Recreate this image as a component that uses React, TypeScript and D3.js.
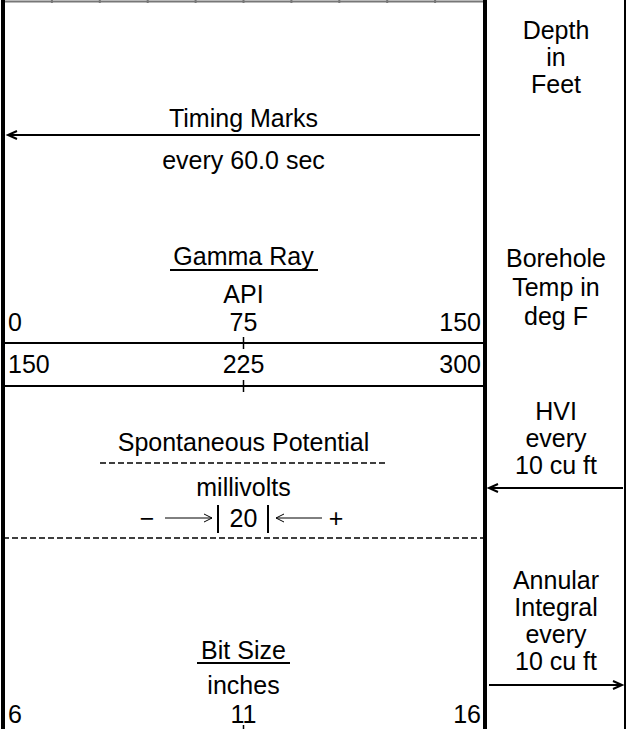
import * as d3 from "d3";

// log header: track scales and labels
const gridDivisions = 10;
const gammaScale = [0, 75, 150];
const gammaBackup = [150, 225, 300];
const bitSizeScale = [6, 11, 16];
const depthLabel = ["Depth", "in", "Feet"];
const tempLabel = ["Borehole", "Temp in", "deg F"];
const hviLabel = ["HVI", "every", "10 cu ft"];
const annularLabel = ["Annular", "Integral", "every", "10 cu ft"];

const W = 629;
const H = 729;
const FONT = "'Liberation Sans', Arial, sans-serif";
const FS = 25;

const trackL = 3;
const trackR = 485;
const colR = 625;
const colMid = (trackR + colR) / 2 + 1;

const x = d3.scaleLinear().domain([0, 150]).range([trackL + 1, trackR - 2]);
const xMid = x(75);

function Txt({ x: tx, y, children, anchor = "middle" }: any) {
  return (
    <text x={tx} y={y} textAnchor={anchor} fontFamily={FONT} fontSize={FS} fill="#000">
      {children}
    </text>
  );
}

function Arrow({ x1, x2, y, head }: { x1: number; x2: number; y: number; head: "left" | "right" }) {
  const hx = head === "left" ? x1 : x2;
  const d = head === "left" ? 9 : -9;
  return (
    <g stroke="#000" strokeWidth={2} fill="none">
      <line x1={x1} x2={x2} y1={y} y2={y} />
      <path d={`M${hx + d},${y - 4} L${hx},${y} L${hx + d},${y + 4}`} />
    </g>
  );
}

export default function App() {
  const gridTicks = d3.range(1, gridDivisions).map((i) => x(i * 15));
  const lines = (arr: string[], y0: number, step: number) =>
    arr.map((s, i) => (
      <Txt key={s + i} x={colMid} y={y0 + i * step}>
        {s}
      </Txt>
    ));
  const scaleRow = (vals: number[], y: number) =>
    vals.map((v, i) => (
      <Txt
        key={v}
        x={i === 0 ? x(0) + 4 : i === 2 ? x(150) - 2 : xMid}
        y={y}
        anchor={i === 0 ? "start" : i === 2 ? "end" : "middle"}
      >
        {v}
      </Txt>
    ));

  return (
    <div style={{ position: "fixed", left: 0, top: 0 }}>
      <svg width={W} height={H} style={{ display: "block", background: "#fff" }}>
        {/* grid top from the log body */}
        <line x1={trackL} x2={trackR} y1={1.5} y2={1.5} stroke="#777" strokeWidth={2} />
        {gridTicks.map((gx, i) => (
          <line key={i} x1={gx} x2={gx} y1={0} y2={3} stroke="#777" strokeWidth={2} />
        ))}

        {/* borders */}
        <line x1={trackL} x2={trackL} y1={0} y2={H} stroke="#000" strokeWidth={4} />
        <line x1={trackR} x2={trackR} y1={0} y2={H} stroke="#000" strokeWidth={4} />
        <line x1={colR} x2={colR} y1={0} y2={H} stroke="#000" strokeWidth={2} />

        {/* right column */}
        {lines(depthLabel, 39, 27)}
        {lines(tempLabel, 267, 29)}
        {lines(hviLabel, 420, 27)}
        <Arrow x1={489} x2={623} y={488} head="left" />
        {lines(annularLabel, 589, 27)}
        <Arrow x1={489} x2={622} y={685} head="right" />

        {/* timing marks */}
        <Txt x={xMid} y={127}>Timing Marks</Txt>
        <Arrow x1={8} x2={480} y={135} head="left" />
        <Txt x={xMid} y={169}>every 60.0 sec</Txt>

        {/* gamma ray */}
        <Txt x={xMid} y={265}>Gamma Ray</Txt>
        <line x1={170} x2={318} y1={270} y2={270} stroke="#000" strokeWidth={2} />
        <Txt x={xMid} y={303}>API</Txt>
        {scaleRow(gammaScale, 331)}
        <line x1={trackL} x2={trackR} y1={343} y2={343} stroke="#000" strokeWidth={2} />
        <line x1={xMid} x2={xMid} y1={337} y2={349} stroke="#000" strokeWidth={1.5} />
        {scaleRow(gammaBackup, 373)}
        <line x1={trackL} x2={trackR} y1={386} y2={386} stroke="#000" strokeWidth={2} />
        <line x1={xMid} x2={xMid} y1={380} y2={392} stroke="#000" strokeWidth={1.5} />

        {/* spontaneous potential */}
        <Txt x={xMid} y={451}>Spontaneous Potential</Txt>
        <line x1={100} x2={386} y1={463} y2={463} stroke="#000" strokeWidth={1.5} strokeDasharray="6,3" />
        <Txt x={xMid} y={496}>millivolts</Txt>
        <Txt x={147} y={527}>−</Txt>
        <g stroke="#000" strokeWidth={1} fill="none">
          <line x1={165} x2={212} y1={518} y2={518} />
          <path d="M204,514 L212,518 L204,522" />
          <line x1={276} x2={322} y1={518} y2={518} />
          <path d="M284,514 L276,518 L284,522" />
        </g>
        <line x1={218} x2={218} y1={505} y2={533} stroke="#000" strokeWidth={2} />
        <Txt x={xMid} y={527}>20</Txt>
        <line x1={268} x2={268} y1={505} y2={533} stroke="#000" strokeWidth={2} />
        <Txt x={336} y={527}>+</Txt>
        <line x1={trackL} x2={trackR - 2} y1={538} y2={538} stroke="#000" strokeWidth={1.5} strokeDasharray="6,3" />

        {/* bit size */}
        <Txt x={xMid} y={659}>Bit Size</Txt>
        <line x1={197} x2={290} y1={663} y2={663} stroke="#000" strokeWidth={2} />
        <Txt x={xMid} y={694}>inches</Txt>
        {scaleRow(bitSizeScale, 723)}
        <line x1={xMid} x2={xMid} y1={725} y2={H} stroke="#000" strokeWidth={1.5} />
      </svg>
    </div>
  );
}
